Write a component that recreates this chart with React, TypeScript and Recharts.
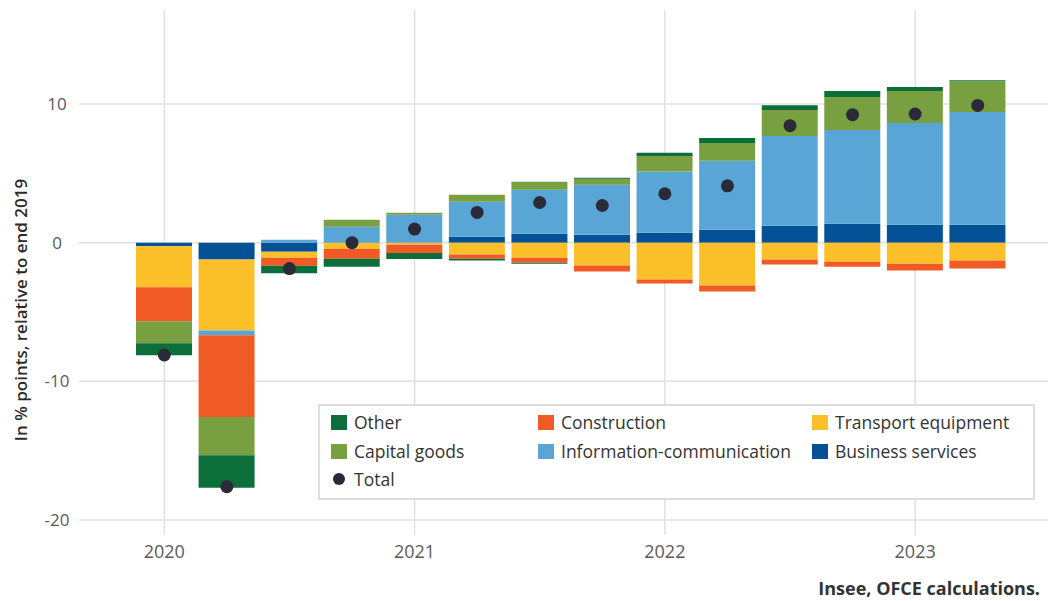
import React from 'react';
import { ComposedChart, Bar, Line, XAxis, YAxis, CartesianGrid } from 'recharts';

const quarters = [
  '2020Q1', '2020Q2', '2020Q3', '2020Q4',
  '2021Q1', '2021Q2', '2021Q3', '2021Q4',
  '2022Q1', '2022Q2', '2022Q3', '2022Q4',
  '2023Q1', '2023Q2',
];

// contributions, in % points
const businessServices = [-0.26, -1.22, -0.65, 0, 0, 0.43, 0.65, 0.58, 0.72, 0.94, 1.22, 1.37, 1.29, 1.29];
const transportEquipment = [-2.95, -5.11, -0.43, -0.43, -0.14, -0.86, -1.08, -1.65, -2.66, -3.09, -1.22, -1.37, -1.51, -1.29];
const infoCommunication = [0, -0.34, 0.22, 1.15, 2.01, 2.52, 3.17, 3.6, 4.41, 4.96, 6.47, 6.76, 7.34, 8.13];
const construction = [-2.45, -5.9, -0.58, -0.72, -0.6, -0.29, -0.36, -0.43, -0.29, -0.43, -0.36, -0.36, -0.5, -0.58];
const capitalGoods = [-1.6, -2.76, 0, 0.5, 0.14, 0.5, 0.58, 0.43, 1.13, 1.29, 1.87, 2.37, 2.3, 2.23];
const other = [-0.86, -2.35, -0.55, -0.58, -0.43, -0.14, -0.07, 0.07, 0.22, 0.36, 0.36, 0.43, 0.29, 0.07];
const total = [-8.1, -17.6, -1.87, 0, 0.98, 2.18, 2.9, 2.68, 3.53, 4.1, 8.44, 9.23, 9.28, 9.9];

const yTicks = [-20, -10, 0, 10];

// stacking order (from zero outward)
const series = [
  { key: 'business', name: 'Business services', fill: '#045196' },
  { key: 'transport', name: 'Transport equipment', fill: '#fbbf2a' },
  { key: 'info', name: 'Information-communication', fill: '#58a5d6' },
  { key: 'construction', name: 'Construction', fill: '#f05a24' },
  { key: 'capital', name: 'Capital goods', fill: '#78a040' },
  { key: 'other', name: 'Other', fill: '#0b6e3b' },
];

// legend order, row by row
const legendOrder = ['other', 'construction', 'transport', 'capital', 'info', 'business'];

const data = quarters.map((q, i) => ({
  q,
  business: businessServices[i],
  transport: transportEquipment[i],
  info: infoCommunication[i],
  construction: construction[i],
  capital: capitalGoods[i],
  other: other[i],
  total: total[i],
}));

const FONT = '"Open Sans", sans-serif';

const YTick = (props: any) => {
  const { y, payload } = props;
  return (
    <text x={57} y={y} dy={6} textAnchor="middle" fill="#5a5a5a" fontSize={17} fontFamily={FONT}>
      {payload.value}
    </text>
  );
};

const LegendBox = () => {
  const cols = [331, 538, 812];
  const items = legendOrder.map(k => series.find(s => s.key === k)!);
  return (
    <div style={{
      position: 'absolute', left: 318, top: 404, width: 717, height: 96,
      border: '2px solid #dedede', background: '#fff', boxSizing: 'border-box',
      fontFamily: FONT, fontSize: 17.5, color: '#333',
    }}>
      {items.map((s, i) => (
        <div key={s.key} style={{
          position: 'absolute', left: cols[i % 3] - 320, top: 2 + Math.floor(i / 3) * 29,
          display: 'flex', alignItems: 'center', height: 28, whiteSpace: 'nowrap',
        }}>
          <span style={{ width: 16, height: 15, background: s.fill, display: 'inline-block', marginRight: 7 }} />
          {s.name}
        </div>
      ))}
      <div style={{
        position: 'absolute', left: 333 - 320, top: 59, display: 'flex', alignItems: 'center', height: 28,
      }}>
        <span style={{ width: 12, height: 12, borderRadius: '50%', background: '#2a2a38', display: 'inline-block', marginRight: 9 }} />
        Total
      </div>
    </div>
  );
};

export default function App() {
  return (
    <div style={{ position: 'absolute', left: 0, top: 0, width: 1052, height: 601, background: '#fff', fontFamily: FONT }}>
      <ComposedChart
        width={1052}
        height={601}
        data={data}
        stackOffset="sign"
        margin={{ top: 10, right: 4, left: 0, bottom: 36 }}
      >
        {/* syncWithTicks: no lines at the plot edges, only at ticks */}
        <CartesianGrid stroke="#e0e0e0" strokeWidth={1.5} syncWithTicks />
        <XAxis
          dataKey="q"
          interval={3}
          height={30}
          tickFormatter={(v: string) => v.slice(0, 4)}
          axisLine={false}
          tickLine={false}
          padding={{ left: 54, right: 39 }}
          tick={{ fill: '#5a5a5a', fontSize: 18, fontFamily: FONT }}
          tickMargin={4}
        />
        <YAxis
          width={79}
          domain={[-21.08, 16.78]}
          ticks={yTicks}
          axisLine={false}
          tickLine={false}
          tick={<YTick />}
          label={{
            content: () => (
              <text
                x={22}
                y={310}
                transform="rotate(-90 22 310)"
                textAnchor="middle"
                dominantBaseline="middle"
                fill="#2b2b2b"
                fontSize={17}
                fontWeight={600}
                fontFamily={FONT}
              >
                In % points, relative to end 2019
              </text>
            ),
          }}
        />
        {series.map(s => (
          <Bar key={s.key} dataKey={s.key} name={s.name} stackId="a" fill={s.fill} barSize={56} isAnimationActive={false} />
        ))}
        <Line
          dataKey="total"
          name="Total"
          stroke="none"
          dot={{ r: 6.5, fill: '#2a2a38', stroke: 'none' }}
          activeDot={false}
          isAnimationActive={false}
        />
      </ComposedChart>
      <LegendBox />
      <div style={{
        position: 'absolute', right: 12, top: 576, fontSize: 18, fontWeight: 700, color: '#333', fontFamily: FONT,
        whiteSpace: 'nowrap',
      }}>
        Insee, OFCE calculations.
      </div>
    </div>
  );
}
